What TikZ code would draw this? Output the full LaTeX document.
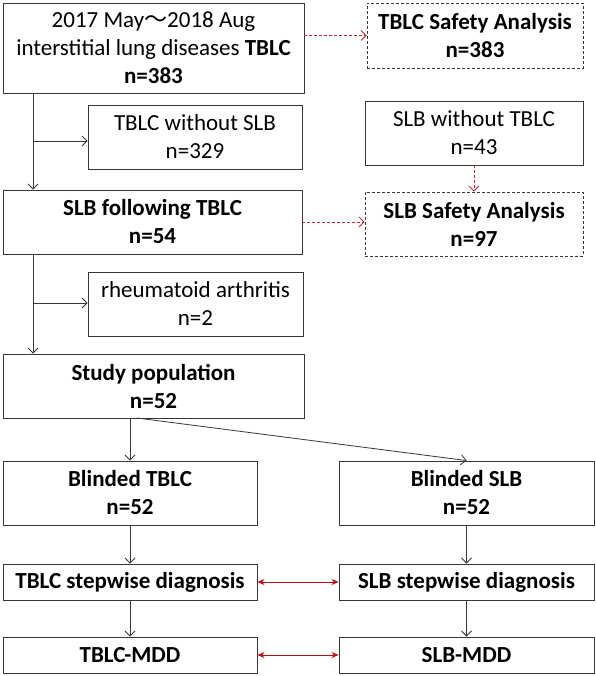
\documentclass[tikz,border=0pt]{standalone}
\usepackage{fontspec}
\setmainfont{Carlito}
\newfontfamily\cjkfont{Noto Sans CJK SC}
\usetikzlibrary{arrows.meta}
\definecolor{boxgray}{RGB}{55,55,55}
\definecolor{redarr}{RGB}{192,10,20}
\definecolor{dashred}{RGB}{190,40,40}
\tikzset{
  box/.style={draw=boxgray, line width=0.9pt, inner sep=0pt, align=center,
    font=\fontsize{23}{28}\selectfont, text=black},
  dbox/.style={box, line width=0.7pt, dash pattern=on 3pt off 2pt},
  arr/.style={draw=boxgray, line width=0.8pt, -{Straight Barb[length=5pt,width=10pt]}},
  darr/.style={draw=dashred, line width=0.9pt, dash pattern=on 3pt off 2pt,
    -{Straight Barb[length=5pt,width=10pt]}},
  biarr/.style={draw=redarr, line width=0.9pt,
    {Stealth[length=7pt,width=6pt]}-{Stealth[length=7pt,width=6pt]}}
}
\begin{document}
\begin{tikzpicture}[x=1pt,y=-1pt]
\useasboundingbox (0,0) rectangle (595,676);
\node[box, minimum width=301pt, minimum height=90pt] (b1) at (153.5,48)
  {2017 May{\cjkfont ～}2018 Aug\\interstitial lung diseases \textbf{TBLC}\\\textbf{n=383}};
\node[dbox, minimum width=216pt, minimum height=65pt] (tsafe) at (475,35.5)
  {\textbf{TBLC Safety Analysis}\\\textbf{n=383}};
\node[box, minimum width=214pt, minimum height=64pt] (twoslb) at (195,137)
  {TBLC without SLB\\n=329};
\node[box, minimum width=218pt, minimum height=64pt] (swotblc) at (474,133)
  {SLB without TBLC\\n=43};
\node[box, minimum width=299pt, minimum height=64pt] (slbf) at (152.5,222)
  {\textbf{SLB following TBLC}\\\textbf{n=54}};
\node[dbox, minimum width=218pt, minimum height=64pt] (ssafe) at (474,224)
  {\textbf{SLB Safety Analysis}\\\textbf{n=97}};
\node[box, minimum width=215pt, minimum height=64pt] (rheum) at (195.5,304)
  {rheumatoid arthritis\\n=2};
\node[box, minimum width=301pt, minimum height=64pt] (study) at (153.5,386)
  {\textbf{Study population}\\\textbf{n=52}};
\node[box, minimum width=254pt, minimum height=64pt] (bt) at (130,493)
  {\textbf{Blinded TBLC}\\\textbf{n=52}};
\node[box, minimum width=255pt, minimum height=64pt] (bs) at (466.5,493)
  {\textbf{Blinded SLB}\\\textbf{n=52}};
\node[box, minimum width=254pt, minimum height=36pt] (ts) at (130,582)
  {\textbf{TBLC stepwise diagnosis}};
\node[box, minimum width=255pt, minimum height=36pt] (ss) at (466.5,582)
  {\textbf{SLB stepwise diagnosis}};
\node[box, minimum width=254pt, minimum height=36pt] (tm) at (130,655)
  {\textbf{TBLC-MDD}};
\node[box, minimum width=255pt, minimum height=36pt] (sm) at (466.5,655)
  {\textbf{SLB-MDD}};
% trunk coordinates
\coordinate (t1) at (33,141);
\coordinate (t2) at (33,303);
\coordinate (s1) at (137,418);
% left trunk
\draw[arr] (b1.south -| t1) -- (slbf.north -| t1);
\draw[arr] (t1) -- (twoslb.west |- t1);
\draw[arr] (slbf.south -| t2) -- (study.north -| t2);
\draw[arr] (t2) -- (rheum.west |- t2);
% safety
\draw[darr] (b1.east |- tsafe.west) -- (tsafe.west);
\draw[darr] (slbf.east) -- (ssafe.west |- slbf.east);
\draw[darr] (swotblc.south) -- (ssafe.north);
% study split
\draw[arr] (study.south -| bt.north) -- (bt.north);
\draw[arr] (s1) -- (bs.north);
% columns
\draw[arr] (bt) -- (ts);
\draw[arr] (ts) -- (tm);
\draw[arr] (bs) -- (ss);
\draw[arr] (ss) -- (sm);
% comparisons
\draw[biarr] (ts.east) -- (ss.west);
\draw[biarr] (tm.east) -- (sm.west);
\end{tikzpicture}
\end{document}
